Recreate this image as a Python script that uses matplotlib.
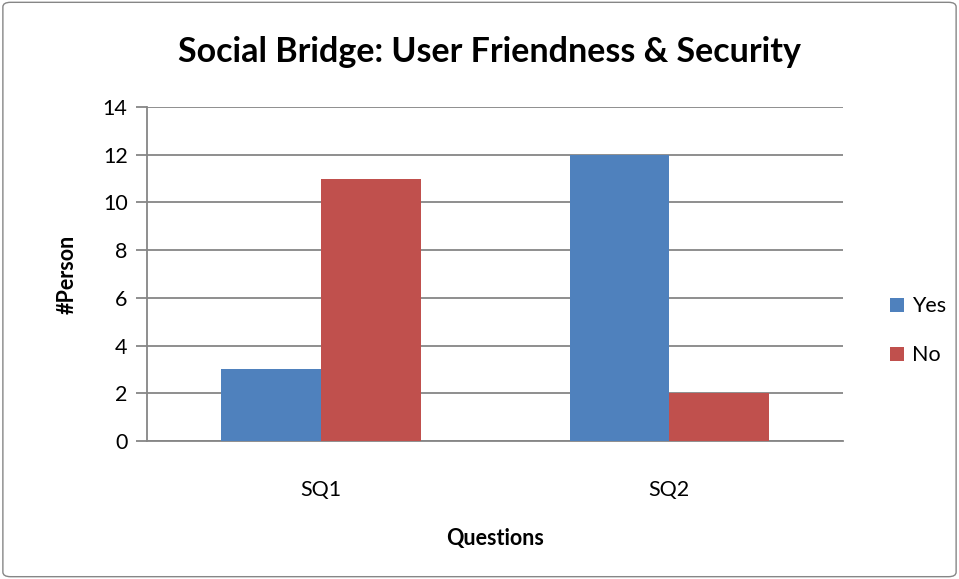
import matplotlib
matplotlib.use('Agg')
import matplotlib.pyplot as plt
from matplotlib.patches import FancyBboxPatch
import numpy as np

plt.rcParams['font.family'] = ['Lato', 'DejaVu Sans']

# data
questions = ['SQ1', 'SQ2']
yes_vals = [3, 12]
no_vals = [11, 2]
series_names = ['Yes', 'No']
colors = ['#4F81BD', '#C0504D']

fig = plt.figure(figsize=(9.59, 5.79), dpi=100)
ax = fig.add_axes([0.1533, 0.2383, 0.7258, 0.5769])

x = np.arange(len(questions))
w = 0.286
ax.bar(x - w/2, yes_vals, w, color=colors[0], label=series_names[0], zorder=3)
ax.bar(x + w/2, no_vals, w, color=colors[1], label=series_names[1], zorder=3)

ax.set_xlim(-0.5, 1.5)
ax.set_ylim(0, 14)
ax.set_yticks(range(0, 15, 2))
ax.set_xticks(x)
ax.set_xticklabels(questions, fontsize=15.5)
ax.tick_params(axis='x', length=0, pad=28)
ax.tick_params(axis='y', length=8, width=1.3, color='#868686', labelsize=15.5, pad=6)
ax.grid(axis='y', color='#868686', linewidth=1.3, zorder=0)
for s in ['top', 'right']:
    ax.spines[s].set_visible(False)
ax.spines['left'].set_color('#868686')
ax.spines['bottom'].set_color('#868686')
ax.spines['left'].set_linewidth(1.3)
ax.spines['bottom'].set_linewidth(1.3)

ax.set_xlabel('Questions', fontsize=15.5, fontweight='bold', labelpad=20)
ax.set_ylabel('#Person', fontsize=15.5, fontweight='bold', labelpad=18)
fig.text(0.51, 0.91, 'Social Bridge: User Friendness & Security', ha='center', va='center',
         fontsize=24.5, fontweight='bold')

ax.legend(loc='center left', bbox_to_anchor=(1.04, 0.33), frameon=False, fontsize=15.5,
          handlelength=0.65, handleheight=0.65, handletextpad=0.35, labelspacing=1.35)

border = FancyBboxPatch((0.003, 0.004), 0.994, 0.992, boxstyle='round,pad=0,rounding_size=0.008',
                        transform=fig.transFigure, fill=False, edgecolor='#868686', linewidth=1)
fig.patches.append(border)

fig.savefig('out.png', dpi=100)
